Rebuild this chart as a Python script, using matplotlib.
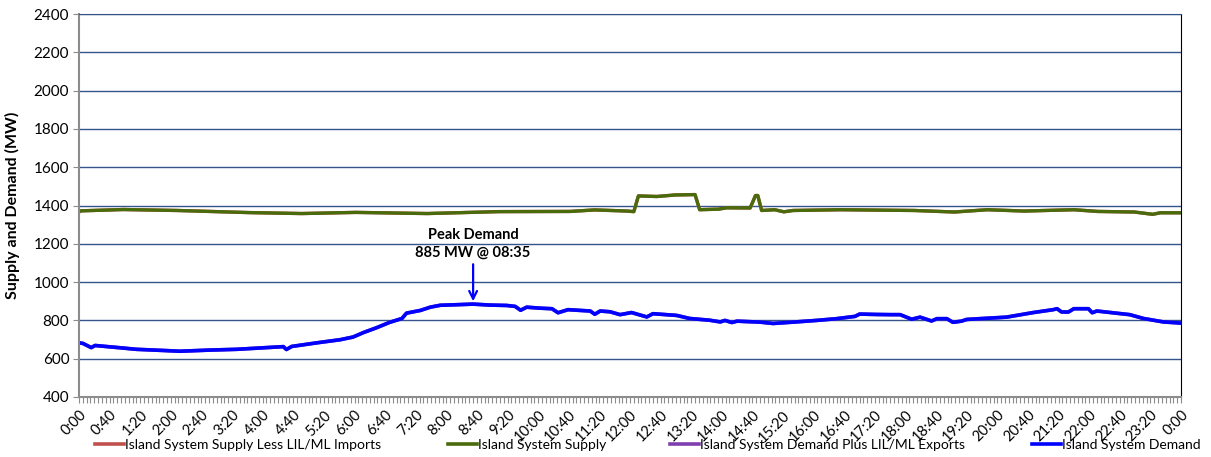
import matplotlib.pyplot as plt
from matplotlib.lines import Line2D
import numpy as np

plt.rcParams['font.family'] = ['Lato', 'DejaVu Sans']

# minutes after midnight, MW
demand_t = [0, 5, 16, 21, 54, 75, 110, 132, 171, 206, 267, 271, 278, 311, 341, 358,
            372, 389, 406, 422, 428, 446, 459, 472, 494, 515, 537, 559, 570, 577, 585,
            602, 618, 626, 639, 668, 674, 681, 694, 707, 722, 742, 750, 781, 798, 824,
            838, 844, 853, 860, 890, 907, 933, 964, 990, 1014, 1020, 1042, 1060, 1073,
            1088, 1099, 1114, 1121, 1134, 1142, 1153, 1160, 1177, 1212, 1247, 1273,
            1278, 1284, 1293, 1300, 1319, 1324, 1330, 1373, 1391, 1417, 1440]
demand_mw = [683, 680, 658, 669, 657, 649, 643, 639, 645, 649, 663, 648, 664, 683, 699, 713,
             737, 762, 790, 810, 838, 852, 869, 879, 882, 885, 880, 878, 873, 853, 869,
             864, 861, 840, 856, 849, 832, 849, 845, 830, 841, 818, 835, 826, 810, 801,
             792, 800, 789, 796, 791, 784, 791, 800, 809, 821, 833, 831, 830, 830,
             806, 817, 797, 809, 809, 790, 796, 805, 809, 817, 841, 856,
             861, 844, 844, 861, 861, 840, 849, 830, 810, 792, 786]

supply_t = [0, 2, 58, 128, 222, 291, 362, 455, 548, 642, 674, 716, 725, 731, 755, 779,
            805, 811, 836, 846, 877, 884, 887, 892, 909, 921, 933, 995, 1091, 1144,
            1187, 1235, 1300, 1331, 1379, 1403, 1413, 1440]
supply_mw = [1366, 1372, 1379, 1374, 1363, 1358, 1364, 1358, 1368, 1369, 1377, 1371, 1368,
             1450, 1447, 1455, 1457, 1378, 1381, 1388, 1387, 1452, 1452, 1374, 1378,
             1367, 1374, 1378, 1374, 1366, 1378, 1371, 1378, 1369, 1366, 1354, 1362, 1362]

lil_ml_imports = 0
lil_ml_exports = 0

labels = ['Island System Supply Less LIL/ML Imports', 'Island System Supply',
          'Island System Demand Plus LIL/ML Exports', 'Island System Demand']
colors = ['#C0504D', '#4A6B0C', '#7F3FAF', '#0000FF']

fig = plt.figure(figsize=(12.11, 4.57), dpi=100)
ax = fig.add_axes([79/1211, 1-397/457, 1102/1211, 383/457])

ax.plot(supply_t, np.array(supply_mw) - lil_ml_imports, color=colors[0], lw=2.4)
ax.plot(supply_t, supply_mw, color=colors[1], lw=2.4)
ax.plot(demand_t, np.array(demand_mw) + lil_ml_exports, color=colors[2], lw=2.6)
ax.plot(demand_t, demand_mw, color=colors[3], lw=2.6)

ax.set_xlim(0, 1440)
ax.set_ylim(400, 2400)
ax.set_yticks(range(400, 2401, 200))
ax.yaxis.grid(True, color='#34548A', lw=1)
ax.set_axisbelow(True)

ticks = list(range(0, 1441, 40))
ax.set_xticks(ticks)
ax.set_xticklabels(['%d:%02d' % ((t // 60) % 24, t % 60) for t in ticks],
                   rotation=45, ha='right', rotation_mode='anchor', fontsize=10.5)
ax.set_xticks(range(0, 1441, 5), minor=True)
ax.tick_params(axis='x', which='both', length=4, color='#8C8C8C', width=0.8, pad=4)
ax.tick_params(axis='y', length=4, color='#8C8C8C', labelsize=11, pad=3)

for s in ['left', 'bottom']:
    ax.spines[s].set_color('#8C8C8C')
    ax.spines[s].set_linewidth(1.5)
ax.spines['top'].set_color('#34548A')
ax.spines['right'].set_color('black')

ax.set_ylabel('Supply and Demand (MW)', fontsize=11.5, fontweight='bold', labelpad=10)

ax.annotate('Peak Demand\n885 MW @ 08:35', xy=(515, 900), xytext=(515, 1115),
            ha='center', va='bottom', fontsize=10.5, fontweight='bold', linespacing=1.35,
            arrowprops=dict(arrowstyle='->', color='#0000FF', lw=1.6, mutation_scale=14,
                            shrinkA=1, shrinkB=0))

# legend entries spread like the Excel legend row
xs = [93, 446, 668, 1030]
for x, lab, c in zip(xs, labels, colors):
    h = Line2D([], [], color=c, lw=2.6)
    fig.legend(handles=[h], labels=[lab], loc='center left',
               bbox_to_anchor=(x/1211 - 0.003, 1 - 445/457), frameon=False,
               fontsize=10, handlelength=2.1, handletextpad=0.1, borderaxespad=0)

fig.savefig('out.png', dpi=100)
